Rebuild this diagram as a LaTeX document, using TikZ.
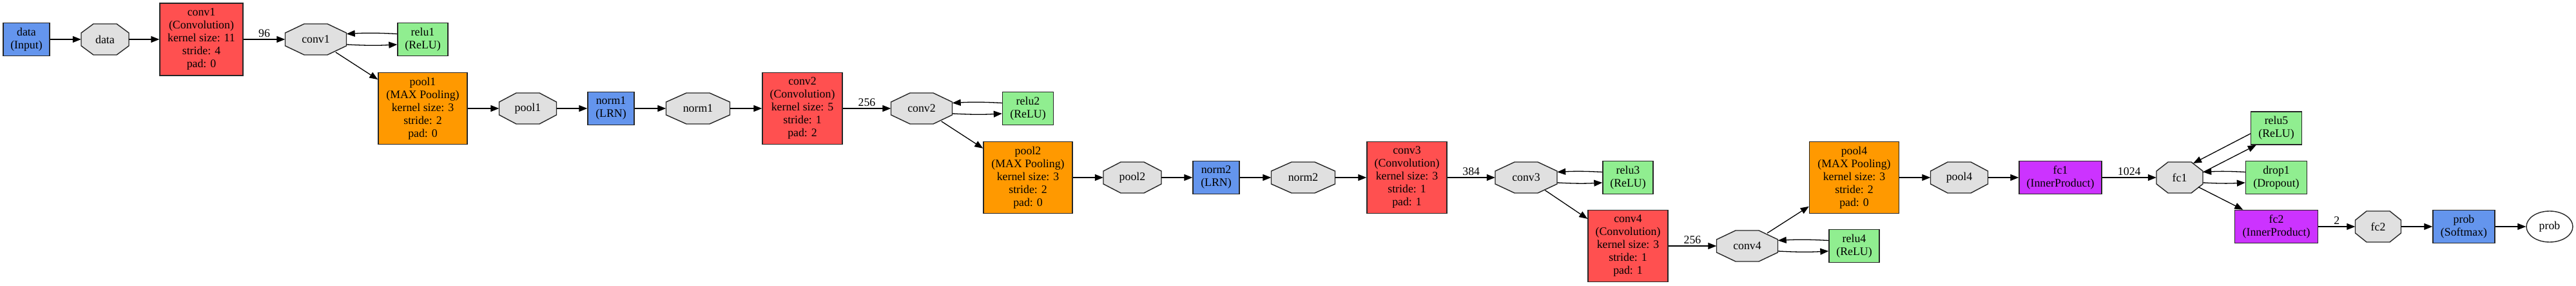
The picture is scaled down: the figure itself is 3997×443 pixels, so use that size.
\documentclass[tikz,border=0pt]{standalone}
\usepackage{fontspec}
\setmainfont{Liberation Serif}
\usetikzlibrary{shapes.geometric,arrows.meta}
\definecolor{cblue}{HTML}{6495ED}
\definecolor{cred}{HTML}{FF5050}
\definecolor{corange}{HTML}{FF9900}
\definecolor{cgreen}{HTML}{90EE90}
\definecolor{cpurple}{HTML}{CC33FF}
\definecolor{cgray}{HTML}{E0E0E0}
% octagon blob: name, x, y, width, text
\newcommand\octnode[5]{%
  \pgfmathsetmacro\oL{#2-#4/2}\pgfmathsetmacro\oR{#2+#4/2}%
  \pgfmathsetmacro\oIL{#2-18}\pgfmathsetmacro\oIR{#2+18}%
  \pgfmathsetmacro\oT{#3-24}\pgfmathsetmacro\oB{#3+24}%
  \pgfmathsetmacro\oST{#3-10}\pgfmathsetmacro\oSB{#3+10}%
  \path[octpath] (\oL,\oST) -- (\oIL,\oT) -- (\oIR,\oT) -- (\oR,\oST)
     -- (\oR,\oSB) -- (\oIR,\oB) -- (\oIL,\oB) -- (\oL,\oSB) -- cycle;
  \node[rectangle, minimum width=#4, minimum height=48] (#1) at (#2,#3) {#5};%
}
\begin{document}
\begin{tikzpicture}[x=1pt,y=-1pt,
  every node/.style={font=\fontsize{17.8}{20}\selectfont, align=center, inner sep=0pt},
  box/.style={draw=black!85, line width=1.4pt, rectangle, minimum height=51},
  bigbox/.style={box, minimum height=111},
  octpath/.style={draw=black!85, line width=1.4pt, fill=cgray, line join=miter},
  conn/.style={-{Triangle[length=13pt,width=10pt]}, line width=1.3pt, black},
  fromoct/.style={shorten <=-8pt},
  lab/.style={above=3pt, midway}
]
\useasboundingbox (0,0) rectangle (3997,443);
% row 1
\node[box, fill=cblue, minimum width=72] (dataIn) at (41,61) {data\\(Input)};
\octnode{dataB}{163}{61}{74}{data}
\node[box, fill=cred, minimum width=129, minimum height=112] (conv1) at (312.5,61) {conv1\\(Convolution)\\kernel size: 11\\stride: 4\\pad: 0};
\octnode{conv1B}{490}{61}{95}{conv1}
\node[box, fill=cgreen, minimum width=78] (relu1) at (656,61) {relu1\\(ReLU)};
% row 2
\node[bigbox, fill=corange, minimum width=138] (pool1) at (656,168) {pool1\\(MAX Pooling)\\kernel size: 3\\stride: 2\\pad: 0};
\octnode{pool1B}{819}{168}{89}{pool1}
\node[box, fill=cblue, minimum width=72] (norm1) at (948,168) {norm1\\(LRN)};
\octnode{norm1B}{1083}{168}{99}{norm1}
\node[bigbox, fill=cred, minimum width=124] (conv2) at (1245,168) {conv2\\(Convolution)\\kernel size: 5\\stride: 1\\pad: 2};
\octnode{conv2B}{1430}{168}{95}{conv2}
\node[box, fill=cgreen, minimum width=79] (relu2) at (1595,168) {relu2\\(ReLU)};
% row 3
\node[bigbox, fill=corange, minimum width=138] (pool2) at (1595,275) {pool2\\(MAX Pooling)\\kernel size: 3\\stride: 2\\pad: 0};
\octnode{pool2B}{1757}{275}{90}{pool2}
\node[box, fill=cblue, minimum width=72] (norm2) at (1887,275) {norm2\\(LRN)};
\octnode{norm2B}{2022}{275}{99}{norm2}
\node[bigbox, fill=cred, minimum width=124] (conv3) at (2183,275) {conv3\\(Convolution)\\kernel size: 3\\stride: 1\\pad: 1};
\octnode{conv3B}{2368}{275}{96}{conv3}
\node[box, fill=cgreen, minimum width=78] (relu3) at (2526,275) {relu3\\(ReLU)};
% row 4
\node[bigbox, fill=cred, minimum width=124] (conv4) at (2526,381) {conv4\\(Convolution)\\kernel size: 3\\stride: 1\\pad: 1};
\octnode{conv4B}{2711}{381}{95}{conv4}
\node[box, fill=cgreen, minimum width=78] (relu4) at (2877,381) {relu4\\(ReLU)};
% row 3 again
\node[bigbox, fill=corange, minimum width=139] (pool4) at (2877,275) {pool4\\(MAX Pooling)\\kernel size: 3\\stride: 2\\pad: 0};
\octnode{pool4B}{3040}{275}{89}{pool4}
\node[box, fill=cpurple, minimum width=128] (fc1) at (3197,275) {fc1\\(InnerProduct)};
\octnode{fc1B}{3382}{275}{72}{fc1}
\node[box, fill=cgreen, minimum width=79] (relu5) at (3532,198.5) {relu5\\(ReLU)};
\node[box, fill=cgreen, minimum width=95] (drop1) at (3532,275) {drop1\\(Dropout)};
\node[box, fill=cpurple, minimum width=129] (fc2) at (3532,351) {fc2\\(InnerProduct)};
\octnode{fc2B}{3690}{351}{71}{fc2}
\node[box, fill=cblue, minimum width=96] (prob) at (3823,351) {prob\\(Softmax)};
\node[ellipse, draw=black!85, line width=1.4pt, fill=white, minimum width=72, minimum height=48] (probE) at (3956,351) {prob};

% connectors
\draw[conn] (dataIn) -- (dataB);
\draw[conn] (dataB) -- (conv1);
\draw[conn] (conv1) -- node[lab]{96} (conv1B);
\draw[conn] ([yshift=8.5pt]relu1.west) to[bend right=3] ([yshift=8.5pt]conv1B.east);
\draw[conn] ([yshift=-8pt]conv1B.east) to[bend right=3] ([yshift=-8pt]relu1.west);
\draw[conn, fromoct] (conv1B) -- (pool1);
\draw[conn] (pool1) -- (pool1B);
\draw[conn] (pool1B) -- (norm1);
\draw[conn] (norm1) -- (norm1B);
\draw[conn] (norm1B) -- (conv2);
\draw[conn] (conv2) -- node[lab]{256} (conv2B);
\draw[conn] ([yshift=8.5pt]relu2.west) to[bend right=3] ([yshift=8.5pt]conv2B.east);
\draw[conn] ([yshift=-8pt]conv2B.east) to[bend right=3] ([yshift=-8pt]relu2.west);
\draw[conn, fromoct] (conv2B) -- (pool2);
\draw[conn] (pool2) -- (pool2B);
\draw[conn] (pool2B) -- (norm2);
\draw[conn] (norm2) -- (norm2B);
\draw[conn] (norm2B) -- (conv3);
\draw[conn] (conv3) -- node[lab]{384} (conv3B);
\draw[conn] ([yshift=8.5pt]relu3.west) to[bend right=3] ([yshift=8.5pt]conv3B.east);
\draw[conn] ([yshift=-8pt]conv3B.east) to[bend right=3] ([yshift=-8pt]relu3.west);
\draw[conn, fromoct] (conv3B) -- (conv4);
\draw[conn] (conv4) -- node[lab]{256} (conv4B);
\draw[conn] ([yshift=8.5pt]relu4.west) to[bend right=3] ([yshift=8.5pt]conv4B.east);
\draw[conn] ([yshift=-8pt]conv4B.east) to[bend right=3] ([yshift=-8pt]relu4.west);
\draw[conn, fromoct] (conv4B) -- (pool4);
\draw[conn] (pool4) -- (pool4B);
\draw[conn] (pool4B) -- (fc1);
\draw[conn] (fc1) -- node[lab]{1024} (fc1B);
\draw[conn] (relu5.192) -- ([xshift=21pt,yshift=22pt]fc1B.center);
\draw[conn] ([xshift=36pt,yshift=8pt]fc1B.center) -- (relu5.220);
\draw[conn] ([yshift=8.5pt]drop1.west) to[bend right=3] ([yshift=8.5pt]fc1B.east);
\draw[conn] ([yshift=-8pt]fc1B.east) to[bend right=3] ([yshift=-8pt]drop1.west);
\draw[conn, fromoct] (fc1B) -- (fc2);
\draw[conn] (fc2) -- node[lab]{2} (fc2B);
\draw[conn] (fc2B) -- (prob);
\draw[conn] (prob) -- (probE);
\end{tikzpicture}
\end{document}
